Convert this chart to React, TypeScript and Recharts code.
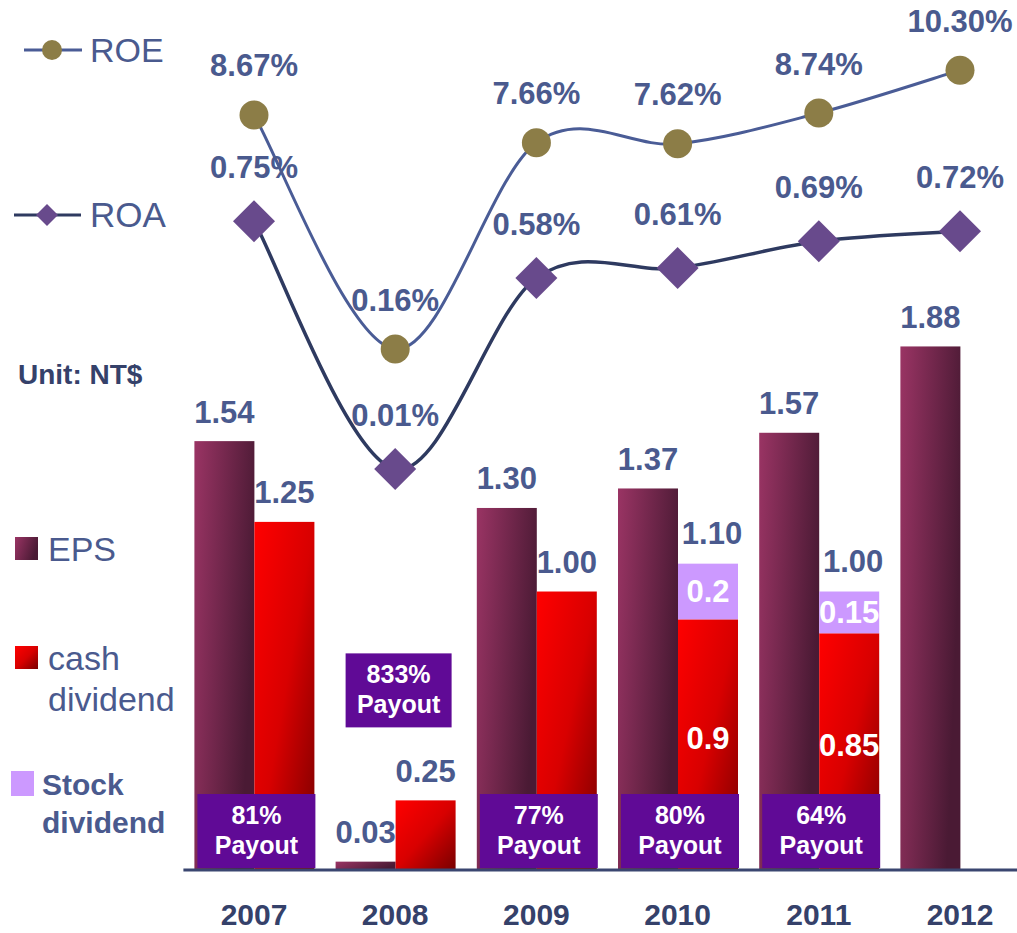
import React from "react";
import {
  ComposedChart,
  Bar,
  Line,
  XAxis,
  YAxis,
} from "recharts";

const YEARS = ["2007", "2008", "2009", "2010", "2011", "2012"];
const EPS = [1.54, 0.03, 1.3, 1.37, 1.57, 1.88];
const CASH = [1.25, 0.25, 1.0, 0.9, 0.85, null];
const STOCK = [null, null, null, 0.2, 0.15, null];
const ROE = [8.67, 0.16, 7.66, 7.62, 8.74, 10.3];
const ROA = [0.75, 0.01, 0.58, 0.61, 0.69, 0.72];
const PAYOUT = ["81%", "833%", "77%", "80%", "64%", null];

const data = YEARS.map((year, i) => ({
  year,
  eps: EPS[i],
  cash: CASH[i],
  stock: STOCK[i],
  roe: ROE[i],
  roa: ROA[i],
}));

const BLUE = "#4A5A8E";
const NAVY = "#35416A";
const FONT = "'Liberation Sans', Arial, sans-serif";

// Excel-like smoothed line (Catmull-Rom as cubic beziers)
function smoothCurve(context: any) {
  let pts: number[][] = [];
  return {
    areaStart() {},
    areaEnd() {},
    lineStart() {
      pts = [];
    },
    point(x: number, y: number) {
      pts.push([+x, +y]);
    },
    lineEnd() {
      if (!pts.length) return;
      context.moveTo(pts[0][0], pts[0][1]);
      for (let i = 0; i < pts.length - 1; i++) {
        const p0 = pts[i - 1] || pts[i];
        const p1 = pts[i];
        const p2 = pts[i + 1];
        const p3 = pts[i + 2] || p2;
        context.bezierCurveTo(
          p1[0] + (p2[0] - p0[0]) / 6,
          p1[1] + (p2[1] - p0[1]) / 6,
          p2[0] - (p3[0] - p1[0]) / 6,
          p2[1] - (p3[1] - p1[1]) / 6,
          p2[0],
          p2[1]
        );
      }
    },
  };
}

const idxOf = (p: any) => {
  const k = YEARS.indexOf(p?.payload?.year);
  return k >= 0 ? k : p.index;
};

const numText = (x: number, y: number, s: string, fill = BLUE) => (
  <text
    x={x}
    y={y}
    textAnchor="middle"
    dominantBaseline="central"
    fontFamily={FONT}
    fontWeight="bold"
    fontSize={31}
    fill={fill}
  >
    {s}
  </text>
);

const payoutBox = (x: number, y: number, w: number, pct: string) => (
  <g>
    <rect x={x} y={y} width={w} height={74} fill="#600A96" />
    <text x={x + w / 2} y={y + 30} textAnchor="middle" fontFamily={FONT} fontWeight="bold" fontSize={25} fill="#fff">
      {pct}
    </text>
    <text x={x + w / 2} y={y + 60} textAnchor="middle" fontFamily={FONT} fontWeight="bold" fontSize={25} fill="#fff">
      Payout
    </text>
  </g>
);

const EpsShape = (p: any) => {
  const i = idxOf(p);
  return (
    <g>
      <rect x={p.x} y={p.y} width={p.width} height={Math.max(p.height, 0)} fill="url(#gEps)" />
      {numText(p.x + p.width / 2, p.y - 29, EPS[i].toFixed(2))}
    </g>
  );
};

const CashShape = (p: any) => {
  const i = idxOf(p);
  const v = CASH[i];
  if (v == null) return <g />;
  const hasStock = STOCK[i] != null;
  const base = p.y + p.height;
  const pct = PAYOUT[i];
  return (
    <g>
      <rect x={p.x} y={p.y} width={p.width} height={Math.max(p.height, 0)} fill="url(#gCash)" />
      {hasStock
        ? numText(p.x + p.width / 2, p.y + p.height / 2 - 6, String(v), "#fff")
        : numText(p.x + p.width / 2, p.y - 29, v.toFixed(2))}
      {pct &&
        (p.height >= 80
          ? payoutBox(p.x - 57, base - 76, 118, pct)
          : payoutBox(p.x - 50, p.y - 147, 106, pct))}
    </g>
  );
};

const StockShape = (p: any) => {
  const i = idxOf(p);
  const v = STOCK[i];
  if (v == null) return <g />;
  const total = (CASH[i] ?? 0) + v;
  return (
    <g>
      <rect x={p.x} y={p.y} width={p.width} height={Math.max(p.height, 0)} fill="#CC99FF" />
      {numText(p.x + p.width / 2, p.y + p.height / 2, String(v), "#fff")}
      {numText(p.x + p.width / 2 + 4, p.y - 30, total.toFixed(2))}
    </g>
  );
};

const RoeDot = (p: any) => (
  <g key={`roe-${p.index}`}>
    <circle cx={p.cx} cy={p.cy} r={14.5} fill="#8C7D47" />
    {numText(p.cx, p.cy - 49, `${ROE[p.index].toFixed(2)}%`)}
  </g>
);

const RoaDot = (p: any) => {
  const s = 21;
  return (
    <g key={`roa-${p.index}`}>
      <polygon
        points={`${p.cx},${p.cy - s} ${p.cx + s},${p.cy} ${p.cx},${p.cy + s} ${p.cx - s},${p.cy}`}
        fill="#684A8C"
      />
      {numText(p.cx, p.cy - 54, `${ROA[p.index].toFixed(2)}%`)}
    </g>
  );
};

const YearTick = (p: any) => (
  <text
    x={p.x}
    y={925}
    textAnchor="middle"
    fontFamily={FONT}
    fontWeight="bold"
    fontSize={30}
    fill={NAVY}
  >
    {p.payload.value}
  </text>
);

function Legendish() {
  const t = { fontFamily: FONT, fill: BLUE } as const;
  return (
    <svg
      width={1017}
      height={933}
      style={{ position: "absolute", left: 0, top: 0, pointerEvents: "none" }}
    >
      <line x1={24} y1={50} x2={82} y2={50} stroke="#4A5C96" strokeWidth={3} />
      <circle cx={52} cy={50} r={10} fill="#8C7D47" />
      <text x={90} y={62} fontSize={34} {...t}>ROE</text>

      <line x1={14} y1={215} x2={81} y2={215} stroke="#2E3A60" strokeWidth={3} />
      <polygon points="47,204 58,215 47,226 36,215" fill="#684A8C" />
      <text x={90} y={227} fontSize={35} {...t}>ROA</text>

      <text x={18} y={384} fontSize={28} fontWeight="bold" fontFamily={FONT} fill={NAVY}>
        Unit: NT$
      </text>

      <rect x={15} y={537} width={23} height={23} fill="url(#gEps)" />
      <text x={48} y={561} fontSize={34} {...t}>EPS</text>

      <rect x={15} y={646} width={23} height={23} fill="url(#gCash)" />
      <text x={48} y={670} fontSize={34} {...t}>cash</text>
      <text x={48} y={711} fontSize={34} {...t}>dividend</text>

      <rect x={11} y={771} width={23} height={25} fill="#CC99FF" />
      <text x={42} y={795} fontSize={30} fontWeight="bold" {...t}>Stock</text>
      <text x={42} y={833} fontSize={30} fontWeight="bold" {...t}>dividend</text>
    </svg>
  );
}

export default function App() {
  return (
    <div
      style={{
        position: "absolute",
        left: 0,
        top: 0,
        width: 1017,
        height: 933,
        overflow: "hidden",
        background: "#fff",
      }}
    >
      <svg width={0} height={0} style={{ position: "absolute" }}>
        <defs>
          <linearGradient id="gEps" x1="0" y1="0" x2="1" y2="0.35">
            <stop offset="0%" stopColor="#9A3464" />
            <stop offset="100%" stopColor="#4A1A34" />
          </linearGradient>
          <linearGradient id="gCash" x1="0" y1="0" x2="1" y2="1">
            <stop offset="0%" stopColor="#FF0000" />
            <stop offset="50%" stopColor="#D80000" />
            <stop offset="100%" stopColor="#780000" />
          </linearGradient>
        </defs>
      </svg>
      <ComposedChart
        width={1040}
        height={933}
        data={data}
        margin={{ top: 0, right: 9.4, left: 183.4, bottom: 0 }}
        barGap={0}
      >
        <XAxis
          dataKey="year"
          height={63}
          tickLine={false}
          axisLine={{ stroke: "#3A4670", strokeWidth: 3 }}
          tick={YearTick}
          interval={0}
        />
        <YAxis yAxisId="bar" hide type="number" domain={[0, 3.124]} />
        <YAxis yAxisId="roe" hide type="number" domain={[-18.785, 12.851]} />
        <YAxis yAxisId="roa" hide type="number" domain={[-1.1869, 1.4101]} />
        <Bar yAxisId="bar" dataKey="eps" stackId="a" barSize={60} shape={EpsShape} isAnimationActive={false} />
        <Bar yAxisId="bar" dataKey="cash" stackId="b" barSize={60} shape={CashShape} isAnimationActive={false} />
        <Bar yAxisId="bar" dataKey="stock" stackId="b" barSize={60} shape={StockShape} isAnimationActive={false} />
        <Line
          yAxisId="roe"
          dataKey="roe"
          type={smoothCurve as any}
          stroke="#4A5C96"
          strokeWidth={3}
          dot={RoeDot}
          activeDot={false}
          isAnimationActive={false}
        />
        <Line
          yAxisId="roa"
          dataKey="roa"
          type={smoothCurve as any}
          stroke="#2E3A60"
          strokeWidth={3.5}
          dot={RoaDot}
          activeDot={false}
          isAnimationActive={false}
        />
      </ComposedChart>
      <Legendish />
    </div>
  );
}
